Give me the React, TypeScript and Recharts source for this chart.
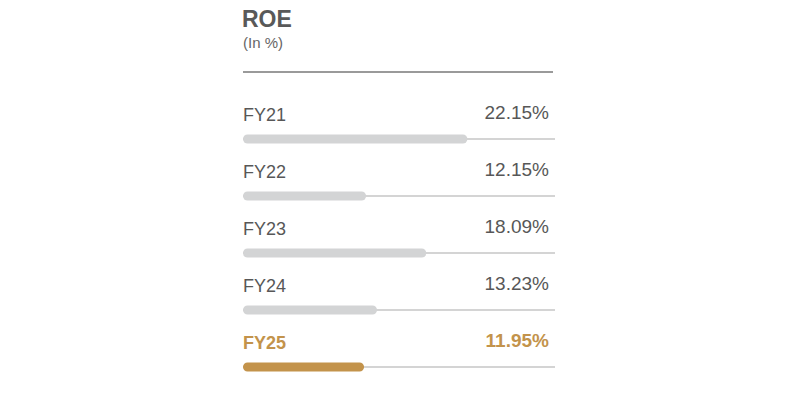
import React from "react";
import { BarChart, Bar, XAxis, YAxis, Cell } from "recharts";

const categories = ["FY21", "FY22", "FY23", "FY24", "FY25"];
const roeValues = [22.15, 12.15, 18.09, 13.23, 11.95];
const valueLabels = ["22.15%", "12.15%", "18.09%", "13.23%", "11.95%"];
const highlightIndex = 4;

const data = categories.map((c, i) => ({ name: c, value: roeValues[i], label: valueLabels[i] }));

const GRAY = "#d3d4d5";
const GOLD = "#c3934b";
const TEXT = "#575757";
const FONT = "'Liberation Sans', Arial, sans-serif";

const Background = (props: any) => {
  const { x, y, width, height, index } = props;
  const hl = index === highlightIndex;
  const color = hl ? GOLD : TEXT;
  const cy = y + height / 2;
  return (
    <g>
      <line x1={x} x2={x + width} y1={cy} y2={cy} stroke="#c6c6c6" strokeWidth={1.5} />
      <text x={x} y={y - 14} fill={color} fontFamily={FONT} fontSize={18} fontWeight={hl ? 700 : 400}>
        {categories[index]}
      </text>
      <text x={x + width - 6} y={y - 16} fill={color} fontFamily={FONT} fontSize={19} fontWeight={hl ? 700 : 400} textAnchor="end">
        {valueLabels[index]}
      </text>
    </g>
  );
};

export default function App() {
  return (
    <div style={{ position: "absolute", left: 0, top: 0, width: 800, height: 400, background: "#fff", fontFamily: FONT }}>
      <div style={{ position: "absolute", left: 242, top: 6, fontSize: 23, fontWeight: 700, color: "#595959" }}>ROE</div>
      <div style={{ position: "absolute", left: 243, top: 34, fontSize: 15, color: "#666" }}>(In %)</div>
      <div style={{ position: "absolute", left: 243, top: 71, width: 310, height: 2, background: "#9a9a9a" }} />
      <div style={{ position: "absolute", left: 0, top: 0 }}>
        <BarChart
          width={800}
          height={400}
          data={data}
          layout="vertical"
          margin={{ top: 110.5, bottom: 4.5, left: 243, right: 245 }}
          barCategoryGap={0}
        >
          <XAxis type="number" hide domain={[0, 30.8]} />
          <YAxis type="category" dataKey="name" hide />
          <Bar
            dataKey="value"
            barSize={9}
            radius={[4.5, 4.5, 4.5, 4.5]}
            isAnimationActive={false}
            background={(p: any) => <Background {...p} />}
          >
            {data.map((d, i) => (
              <Cell key={d.name} fill={i === highlightIndex ? GOLD : GRAY} />
            ))}
          </Bar>
        </BarChart>
      </div>
    </div>
  );
}
